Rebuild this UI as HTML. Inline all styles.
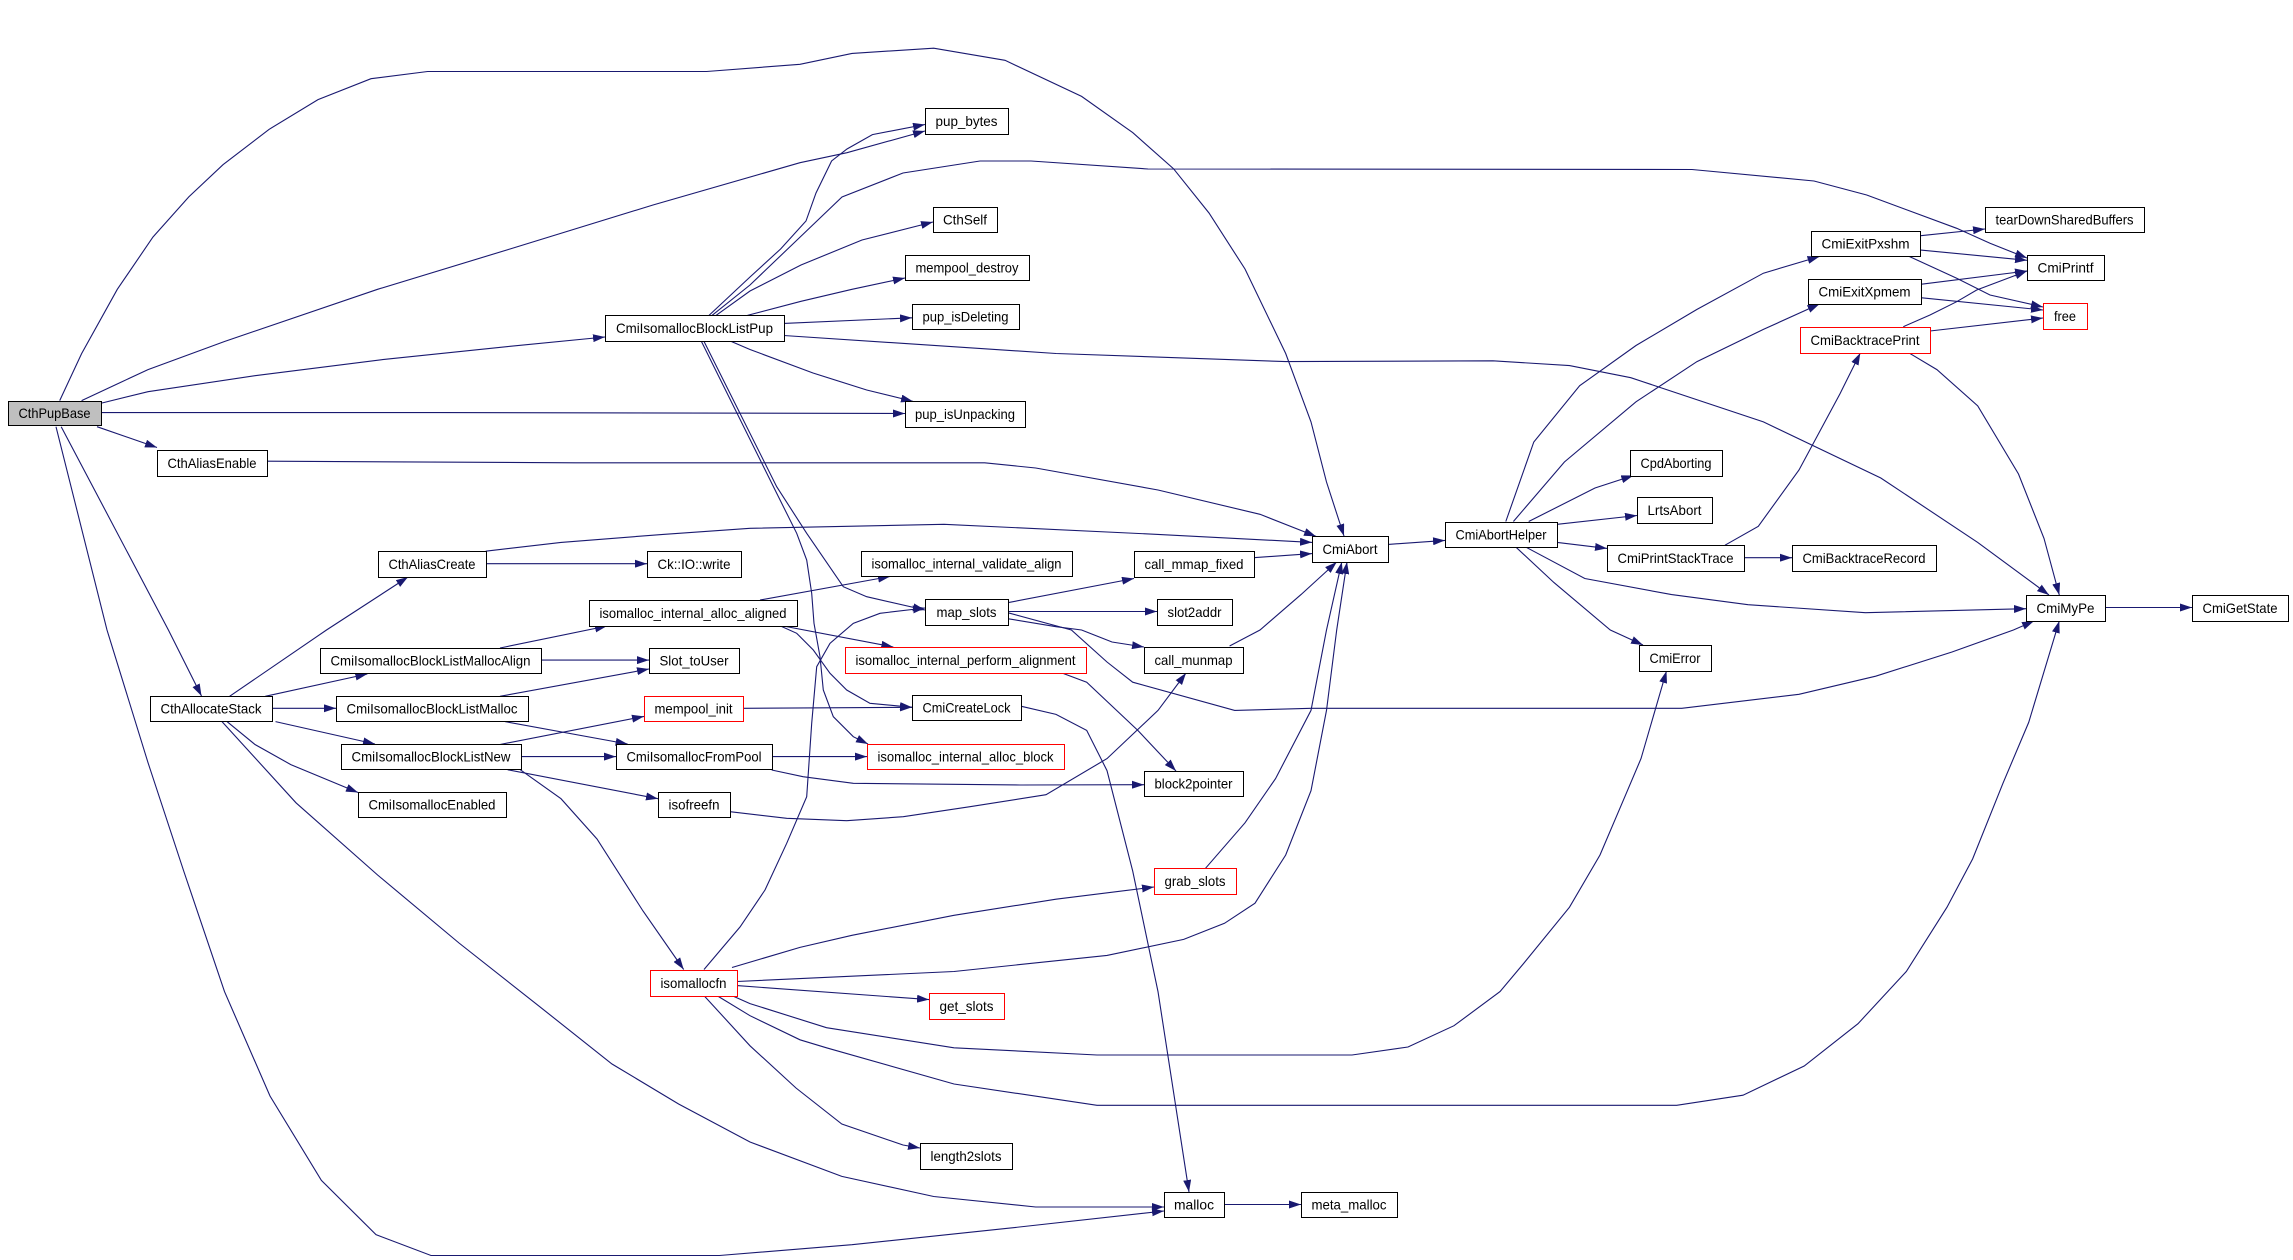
<!DOCTYPE html>
<html><head><meta charset="utf-8"><style>
html,body{margin:0;padding:0;background:#fff;}
svg{display:block}
text{font-family:"Liberation Sans",Arial,sans-serif;font-size:14px;fill:#000;text-anchor:middle}
.e{fill:none;stroke:#191970;stroke-width:1.1;marker-end:url(#ah)}
.n{fill:#fff;stroke:#000;stroke-width:1}
.r{fill:#fff;stroke:#ff0000;stroke-width:1}
.g{fill:#bfbfbf;stroke:#000;stroke-width:1}
</style></head><body>
<svg width="2293" height="1260" viewBox="0 0 2293 1260" xmlns="http://www.w3.org/2000/svg">
<defs>
<marker id="ah" markerUnits="userSpaceOnUse" viewBox="0 0 12 8" refX="12" refY="4" markerWidth="12" markerHeight="8" orient="auto">
<path d="M0,0 L12,4 L0,8 z" fill="#191970"/>
</marker>
</defs>
<rect width="2293" height="1260" fill="#fff"/>
<!-- edges -->
<path class="e" d="M59.7,400.6 L81.6,353.6 L117.3,289.3 L153,237 L188.8,196.9 L223,164.7 L269,129.4 L318,99.6 L371,78.7 L427.6,71.5 L706.6,71.5 L800,64.3 L852,53.4 L933.7,48.2 L1005,60.3 L1081.6,96.4 L1132.7,132.6 L1173.5,168.7 L1209,213 L1245,269 L1285.7,353.5 L1311,421.9 L1326.5,482 L1344,536"/>
<path class="e" d="M81.6,400.6 L148,369.6 L224.5,341.5 L377.6,289.3 L510,249 L653,205 L800,162.7 L847,152.7 L925,131"/>
<path class="e" d="M102,403 L148,391.7 L255,375.7 L382.7,359.6 L510,346.3 L605,337"/>
<path class="e" d="M101.5,412.6 L440,412.6 L905,413.5"/>
<path class="e" d="M97,426.7 L157,447.5"/>
<path class="e" d="M61.2,426.7 L168.4,630 L201.5,696"/>
<path class="e" d="M56,426.7 L107,630 L148,762.6 L183.7,871 L224.5,991.6 L270,1096 L321.4,1180.4 L376,1234.7 L431,1255.5 L719.4,1255.5 L852,1244.7 L1005,1228.6 L1164,1211"/>
<path class="e" d="M222,721.6 L296,802.8 L377.6,875 L459,943 L541,1007.7 L612,1064 L678.6,1104 L750,1142 L841.8,1176.4 L933.7,1196.5 L1035.7,1207 L1164,1207"/>
<path class="e" d="M229.6,696.3 L326.5,630 L408,577"/>
<path class="e" d="M265.3,696.3 L367.3,674"/>
<path class="e" d="M272.4,708.3 L336,708.3"/>
<path class="e" d="M275.5,721.6 L375,744"/>
<path class="e" d="M227,721.6 L255,744.5 L290.8,764.6 L358,792.5"/>
<path class="e" d="M485.7,551.2 L561,542.4 L663,534.4 L750,528.3 L944,524.3 L1158,534.4 L1312,542.4"/>
<path class="e" d="M485.7,563.7 L647,563.7"/>
<path class="e" d="M267.3,461.2 L575.5,462.8 L984.7,462.8 L1035.7,468 L1158,490 L1260,514.3 L1316,536.4"/>
<path class="e" d="M709,315.4 L750,277 L780.6,249 L806,221 L816,193 L831.6,161 L847,149 L872.4,134.6 L925,124.5"/>
<path class="e" d="M712,315.4 L750,285 L796,241 L842,197 L903,173 L980,161 L1031,161 L1148,169 L1692,169.5 L1814,181 L1866.7,195 L1956.7,228.3 L1990,243.3 L2027,258"/>
<path class="e" d="M716,315.4 L750,291 L801,265 L862,240 L933,222"/>
<path class="e" d="M747.4,315.4 L801,301.3 L852,289.3 L905,278"/>
<path class="e" d="M783.7,323.4 L912,317.8"/>
<path class="e" d="M783.7,335.5 L1056,353.5 L1285.7,361.6 L1493,360.8 L1569.5,365.6 L1630.8,377.7 L1763.4,421.9 L1880.8,478 L1977.7,542.4 L2049,595"/>
<path class="e" d="M729.6,340.7 L750,349.5 L813,373 L866.7,390 L913,401.4"/>
<path class="e" d="M703.3,340 L776.7,486.7 L806.7,533.3 L843.3,586.7 L866.7,596.7 L925,610"/>
<path class="e" d="M700.7,340 L776.7,493.3 L796.7,533.3 L806.7,560 L811.7,593.3 L814,623.3 L820,656.7 L823.3,690 L833.3,716.7 L853.3,736.7 L868,744"/>
<path class="e" d="M778.3,625 L796.7,633.3 L813.3,650 L830,673.3 L846.7,690 L870,703.3 L912,707.3"/>
<path class="e" d="M783.3,626 L893.3,647"/>
<path class="e" d="M760,600 L890,576.5"/>
<path class="e" d="M500,648 L607,626"/>
<path class="e" d="M541.3,660.1 L649,660.1"/>
<path class="e" d="M500,696.3 L649,669"/>
<path class="e" d="M505,721.6 L627.6,744"/>
<path class="e" d="M500,744.5 L644,716.4"/>
<path class="e" d="M521.4,756.6 L616,756.6"/>
<path class="e" d="M507.7,769.8 L658,798.7"/>
<path class="e" d="M520.4,769.8 L561,798.7 L597,839 L643,911 L683.7,969.5"/>
<path class="e" d="M743.4,708.3 L912,707.3"/>
<path class="e" d="M772.4,756.6 L867,756.6"/>
<path class="e" d="M771.7,770 L803,776.7 L853.3,783.3 L1020,785 L1144,784.7"/>
<path class="e" d="M730,811.7 L786.7,818.3 L846.7,820.7 L903.3,816.7 L970,806.7 L1046,794.7 L1107,758.6 L1158,710.4 L1186,673"/>
<path class="e" d="M704,969.5 L740,927 L765,890 L786.7,843.3 L806.7,796.7 L811.7,723.3 L816.7,666.7 L830,643.3 L853.3,623.3 L880,613.3 L925,608"/>
<path class="e" d="M737,981.5 L954,971.5 L1107,955.4 L1183.7,939.4 L1224.5,923.3 L1255,903.2 L1285.7,855 L1311,790.7 L1326.5,710.4 L1336.7,630 L1347,562"/>
<path class="e" d="M732,967.5 L800,947.4 L852,935.3 L954,915.3 L1056,899.2 L1154,887"/>
<path class="e" d="M737,985.6 L929,999.6"/>
<path class="e" d="M732,995.6 L750,1003.6 L826.5,1027.7 L954,1047.8 L1097,1055 L1352,1055 L1408,1047 L1454,1025.7 L1500,991.6 L1523.6,963.5 L1569.5,907.2 L1600,855 L1625.7,794.7 L1641,758.6 L1666.5,671"/>
<path class="e" d="M717,995.6 L750,1015.7 L800,1039.8 L826.5,1047.8 L954,1084 L1097,1105.3 L1676.7,1105.3 L1743,1095.2 L1804.2,1066 L1858,1023.7 L1906.3,971.5 L1947,907.2 L1972.6,859 L2003.2,782.7 L2028.7,722.4 L2059.3,621"/>
<path class="e" d="M704,995.6 L750,1045.8 L796,1088 L841.8,1124 L903,1145 L920,1148"/>
<path class="e" d="M1021.4,706.3 L1056,714.4 L1086.7,730.4 L1107,770.6 L1132.7,871 L1158,991.6 L1189,1192"/>
<path class="e" d="M1061,672.6 L1086.7,682.2 L1137.8,730.4 L1176,771"/>
<path class="e" d="M1224.5,1204.5 L1301,1204.5"/>
<path class="e" d="M1205.6,868.2 L1245,822.8 L1275.5,778.7 L1311,710.4 L1326.5,630 L1341.8,562"/>
<path class="e" d="M1229.6,646 L1260,630 L1301,594.6 L1336.7,562"/>
<path class="e" d="M1253.6,557.7 L1312,553.6"/>
<path class="e" d="M1007.7,602.7 L1134,578.5"/>
<path class="e" d="M1007.7,611.5 L1157,611.5"/>
<path class="e" d="M1007.7,618.7 L1056,626.7 L1081.6,630 L1112,642 L1144,647"/>
<path class="e" d="M1007.7,612.7 L1071.4,630 L1107,662 L1132.7,682.2 L1234.7,710.4 L1311,708.3 L1681.8,708.3 L1799,694.3 L1875.7,676.2 L1952,652 L2013.4,630 L2034,621"/>
<path class="e" d="M1388.3,544.4 L1445,540.4"/>
<path class="e" d="M1505.8,521.5 L1533.8,442 L1579.7,385.7 L1636,345.5 L1697,309.4 L1763.4,273.2 L1819.5,256.5"/>
<path class="e" d="M1513.4,521.5 L1564.4,462 L1636,401.8 L1697,361.6 L1763.4,329.4 L1819.5,304"/>
<path class="e" d="M1528.7,521.5 L1595,488 L1633.3,475.5"/>
<path class="e" d="M1557.3,524.3 L1637,515.5"/>
<path class="e" d="M1557.3,542.4 L1607,548.4"/>
<path class="e" d="M1526,547.2 L1584.8,578.5 L1671.6,594.6 L1748,604.7 L1865.4,612.7 L2026,608.7"/>
<path class="e" d="M1516,547.2 L1554,582.6 L1610.3,630 L1643,645"/>
<path class="e" d="M1725,545.2 L1758.3,526.3 L1799,470 L1840,393.7 L1860.3,353"/>
<path class="e" d="M1744.5,557.7 L1792,557.7"/>
<path class="e" d="M1919.5,235.8 L1985,229"/>
<path class="e" d="M1919.5,249.9 L2027,260.3"/>
<path class="e" d="M1908.8,256.3 L1956.7,278.3 L1990,295 L2043,307"/>
<path class="e" d="M1920.6,284.3 L2027,271"/>
<path class="e" d="M1920.6,297.7 L2043,310"/>
<path class="e" d="M1930,331 L2043,318"/>
<path class="e" d="M1903.3,326.7 L1930,315 L1956.7,301.7 L1976.7,290 L2027,271"/>
<path class="e" d="M1908.8,352.8 L1936.9,369.6 L1977.7,405.8 L2018.5,474 L2044,538.4 L2059.3,595"/>
<path class="e" d="M2104.7,607.5 L2192,607.5"/>
<!-- nodes -->
<rect class="g" x="8.5" y="401.5" width="93" height="24"/><text x="54.5" y="418" textLength="72" lengthAdjust="spacingAndGlyphs">CthPupBase</text>
<rect class="n" x="605.5" y="315.5" width="179" height="26"/><text x="694.5" y="333" textLength="157" lengthAdjust="spacingAndGlyphs">CmiIsomallocBlockListPup</text>
<rect class="n" x="157.5" y="450.5" width="110" height="26"/><text x="212" y="468" textLength="89" lengthAdjust="spacingAndGlyphs">CthAliasEnable</text>
<rect class="n" x="378.5" y="551.5" width="108" height="26"/><text x="432" y="569" textLength="87" lengthAdjust="spacingAndGlyphs">CthAliasCreate</text>
<rect class="n" x="647.5" y="551.5" width="94" height="26"/><text x="694" y="569" textLength="73" lengthAdjust="spacingAndGlyphs">Ck::IO::write</text>
<rect class="n" x="589.5" y="600.5" width="208" height="26"/><text x="693" y="618" textLength="187" lengthAdjust="spacingAndGlyphs">isomalloc_internal_alloc_aligned</text>
<rect class="n" x="320.5" y="648.5" width="221" height="25"/><text x="430.5" y="665.5" textLength="200" lengthAdjust="spacingAndGlyphs">CmiIsomallocBlockListMallocAlign</text>
<rect class="n" x="649.5" y="648.5" width="90" height="25"/><text x="694" y="665.5" textLength="69" lengthAdjust="spacingAndGlyphs">Slot_toUser</text>
<rect class="n" x="150.5" y="696.5" width="122" height="25"/><text x="211" y="713.5" textLength="101" lengthAdjust="spacingAndGlyphs">CthAllocateStack</text>
<rect class="n" x="336.5" y="696.5" width="192" height="25"/><text x="432" y="713.5" textLength="171" lengthAdjust="spacingAndGlyphs">CmiIsomallocBlockListMalloc</text>
<rect class="r" x="644.5" y="696.5" width="99" height="25"/><text x="693.5" y="713.5" textLength="78" lengthAdjust="spacingAndGlyphs">mempool_init</text>
<rect class="n" x="341.5" y="744.5" width="180" height="25"/><text x="431" y="761.5" textLength="159" lengthAdjust="spacingAndGlyphs">CmiIsomallocBlockListNew</text>
<rect class="n" x="616.5" y="744.5" width="156" height="25"/><text x="694" y="761.5" textLength="135" lengthAdjust="spacingAndGlyphs">CmiIsomallocFromPool</text>
<rect class="n" x="358.5" y="792.5" width="148" height="25"/><text x="432" y="809.5" textLength="127" lengthAdjust="spacingAndGlyphs">CmiIsomallocEnabled</text>
<rect class="n" x="658.5" y="792.5" width="72" height="25"/><text x="694" y="809.5" textLength="51" lengthAdjust="spacingAndGlyphs">isofreefn</text>
<rect class="r" x="650.5" y="970.5" width="87" height="26"/><text x="693.5" y="988" textLength="66" lengthAdjust="spacingAndGlyphs">isomallocfn</text>
<rect class="n" x="925.5" y="108.5" width="83" height="26"/><text x="966.5" y="126" textLength="62" lengthAdjust="spacingAndGlyphs">pup_bytes</text>
<rect class="n" x="933.5" y="207.5" width="64" height="25"/><text x="965" y="224.5" textLength="44" lengthAdjust="spacingAndGlyphs">CthSelf</text>
<rect class="n" x="905.5" y="255.5" width="124" height="25"/><text x="967" y="272.5" textLength="103" lengthAdjust="spacingAndGlyphs">mempool_destroy</text>
<rect class="n" x="912.5" y="304.5" width="107" height="25"/><text x="965.5" y="321.5" textLength="86" lengthAdjust="spacingAndGlyphs">pup_isDeleting</text>
<rect class="n" x="905.5" y="401.5" width="120" height="26"/><text x="965" y="419" textLength="100" lengthAdjust="spacingAndGlyphs">pup_isUnpacking</text>
<rect class="n" x="1312.5" y="536.5" width="76" height="26"/><text x="1350" y="554" textLength="55" lengthAdjust="spacingAndGlyphs">CmiAbort</text>
<rect class="n" x="1445.5" y="522.5" width="112" height="25"/><text x="1501" y="539.5" textLength="91" lengthAdjust="spacingAndGlyphs">CmiAbortHelper</text>
<rect class="n" x="861.5" y="551.5" width="211" height="25"/><text x="966.5" y="568.5" textLength="190" lengthAdjust="spacingAndGlyphs">isomalloc_internal_validate_align</text>
<rect class="n" x="1134.5" y="551.5" width="120" height="26"/><text x="1194" y="569" textLength="99" lengthAdjust="spacingAndGlyphs">call_mmap_fixed</text>
<rect class="n" x="925.5" y="599.5" width="83" height="26"/><text x="966.5" y="617" textLength="60" lengthAdjust="spacingAndGlyphs">map_slots</text>
<rect class="n" x="1157.5" y="599.5" width="75" height="26"/><text x="1194.5" y="617" textLength="54" lengthAdjust="spacingAndGlyphs">slot2addr</text>
<rect class="r" x="845.5" y="647.5" width="241" height="26"/><text x="965.5" y="665" textLength="220" lengthAdjust="spacingAndGlyphs">isomalloc_internal_perform_alignment</text>
<rect class="n" x="1144.5" y="647.5" width="99" height="26"/><text x="1193.5" y="665" textLength="78" lengthAdjust="spacingAndGlyphs">call_munmap</text>
<rect class="n" x="912.5" y="695.5" width="109" height="25"/><text x="966.5" y="712.5" textLength="88" lengthAdjust="spacingAndGlyphs">CmiCreateLock</text>
<rect class="r" x="867.5" y="744.5" width="197" height="25"/><text x="965.5" y="761.5" textLength="176" lengthAdjust="spacingAndGlyphs">isomalloc_internal_alloc_block</text>
<rect class="n" x="1144.5" y="771.5" width="99" height="25"/><text x="1193.5" y="788.5" textLength="78" lengthAdjust="spacingAndGlyphs">block2pointer</text>
<rect class="r" x="1154.5" y="868.5" width="82" height="26"/><text x="1195" y="886" textLength="61" lengthAdjust="spacingAndGlyphs">grab_slots</text>
<rect class="r" x="929.5" y="993.5" width="75" height="26"/><text x="966.5" y="1011" textLength="54" lengthAdjust="spacingAndGlyphs">get_slots</text>
<rect class="n" x="920.5" y="1143.5" width="92" height="26"/><text x="966" y="1161" textLength="71" lengthAdjust="spacingAndGlyphs">length2slots</text>
<rect class="n" x="1164.5" y="1192.5" width="60" height="25"/><text x="1194" y="1209.5" textLength="40" lengthAdjust="spacingAndGlyphs">malloc</text>
<rect class="n" x="1301.5" y="1192.5" width="96" height="25"/><text x="1349" y="1209.5" textLength="75" lengthAdjust="spacingAndGlyphs">meta_malloc</text>
<rect class="n" x="1985.5" y="207.5" width="159" height="25"/><text x="2064.5" y="224.5" textLength="138" lengthAdjust="spacingAndGlyphs">tearDownSharedBuffers</text>
<rect class="n" x="1811.5" y="231.5" width="109" height="25"/><text x="1865.5" y="248.5" textLength="88" lengthAdjust="spacingAndGlyphs">CmiExitPxshm</text>
<rect class="n" x="2027.5" y="255.5" width="77" height="25"/><text x="2065.5" y="272.5" textLength="56" lengthAdjust="spacingAndGlyphs">CmiPrintf</text>
<rect class="n" x="1808.5" y="279.5" width="113" height="25"/><text x="1864.5" y="296.5" textLength="92" lengthAdjust="spacingAndGlyphs">CmiExitXpmem</text>
<rect class="r" x="2043.5" y="303.5" width="44" height="26"/><text x="2065" y="321" textLength="22" lengthAdjust="spacingAndGlyphs">free</text>
<rect class="r" x="1800.5" y="327.5" width="130" height="26"/><text x="1865" y="345" textLength="109" lengthAdjust="spacingAndGlyphs">CmiBacktracePrint</text>
<rect class="n" x="1630.5" y="450.5" width="92" height="26"/><text x="1676" y="468" textLength="71" lengthAdjust="spacingAndGlyphs">CpdAborting</text>
<rect class="n" x="1637.5" y="497.5" width="75" height="26"/><text x="1674.5" y="515" textLength="54" lengthAdjust="spacingAndGlyphs">LrtsAbort</text>
<rect class="n" x="1607.5" y="545.5" width="137" height="26"/><text x="1675.5" y="563" textLength="116" lengthAdjust="spacingAndGlyphs">CmiPrintStackTrace</text>
<rect class="n" x="1792.5" y="545.5" width="144" height="26"/><text x="1864" y="563" textLength="123" lengthAdjust="spacingAndGlyphs">CmiBacktraceRecord</text>
<rect class="n" x="2026.5" y="595.5" width="79" height="26"/><text x="2065.5" y="613" textLength="58" lengthAdjust="spacingAndGlyphs">CmiMyPe</text>
<rect class="n" x="2192.5" y="595.5" width="96" height="26"/><text x="2240" y="613" textLength="75" lengthAdjust="spacingAndGlyphs">CmiGetState</text>
<rect class="n" x="1639.5" y="645.5" width="72" height="26"/><text x="1675" y="663" textLength="51" lengthAdjust="spacingAndGlyphs">CmiError</text>
</svg>
</body></html>
